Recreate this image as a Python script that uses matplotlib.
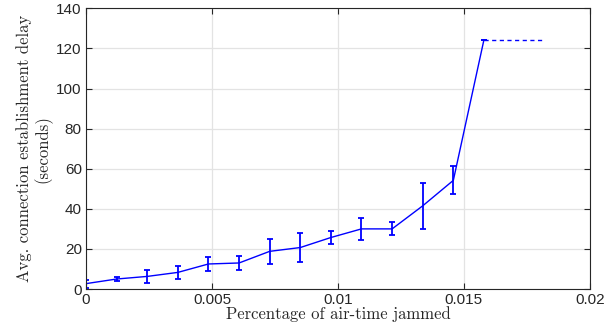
import numpy as np
import matplotlib.pyplot as plt

# data
jam = [0.0, 0.001215, 0.00243, 0.003645, 0.00486, 0.006075, 0.00729,
       0.008505, 0.00972, 0.010935, 0.01215, 0.013365, 0.01458, 0.01579]
delay = [2.7, 5.0, 6.3, 8.3, 12.5, 13.0, 18.8, 20.7, 25.7, 30.0, 30.0, 41.5, 54.2, 124.0]
err = [2.0, 1.1, 3.2, 3.2, 3.7, 3.6, 6.2, 7.3, 3.4, 5.4, 3.2, 11.5, 7.0, 0.0]
tail_x = [0.01579, 0.0182]
tail_y = [124.0, 124.0]

xticks = [0, 0.005, 0.01, 0.015, 0.02]
xticklabels = ['0', '0.005', '0.01', '0.015', '0.02']
yticks = [0, 20, 40, 60, 80, 100, 120, 140]

plt.rcParams['font.family'] = ['Liberation Sans', 'DejaVu Sans']

fig = plt.figure(figsize=(6.16, 3.33), dpi=100)
ax = fig.add_axes([0.1396, 0.132, 0.818, 0.843])

ax.errorbar(jam, delay, yerr=err, color='#0000ff', linewidth=1.0,
            elinewidth=1.3, capsize=2, capthick=1.3)
ax.plot(tail_x, tail_y, color='#0000ff', linewidth=1.0, linestyle=(0, (3, 2.5)))

ax.set_xlim(0, 0.02)
ax.set_ylim(0, 140)
ax.set_xticks(xticks)
ax.set_xticklabels(xticklabels)
ax.set_yticks(yticks)

ax.grid(True, color='#e3e3e3', linewidth=0.9)
ax.set_axisbelow(True)
ax.tick_params(direction='in', length=4, width=0.8, colors='#262626',
               labelsize=11, top=True, right=True, pad=3)
for s in ax.spines.values():
    s.set_color('#262626')
    s.set_linewidth(0.8)

ax.set_xlabel('Percentage of air-time jammed', family='cmr10', fontsize=12,
              color='#262626', labelpad=-1)
ax.set_ylabel('Avg. connection establishment delay\n(seconds)', family='cmr10',
              fontsize=12, color='#262626', labelpad=3, linespacing=1.1)

fig.savefig('out.png', dpi=100)
